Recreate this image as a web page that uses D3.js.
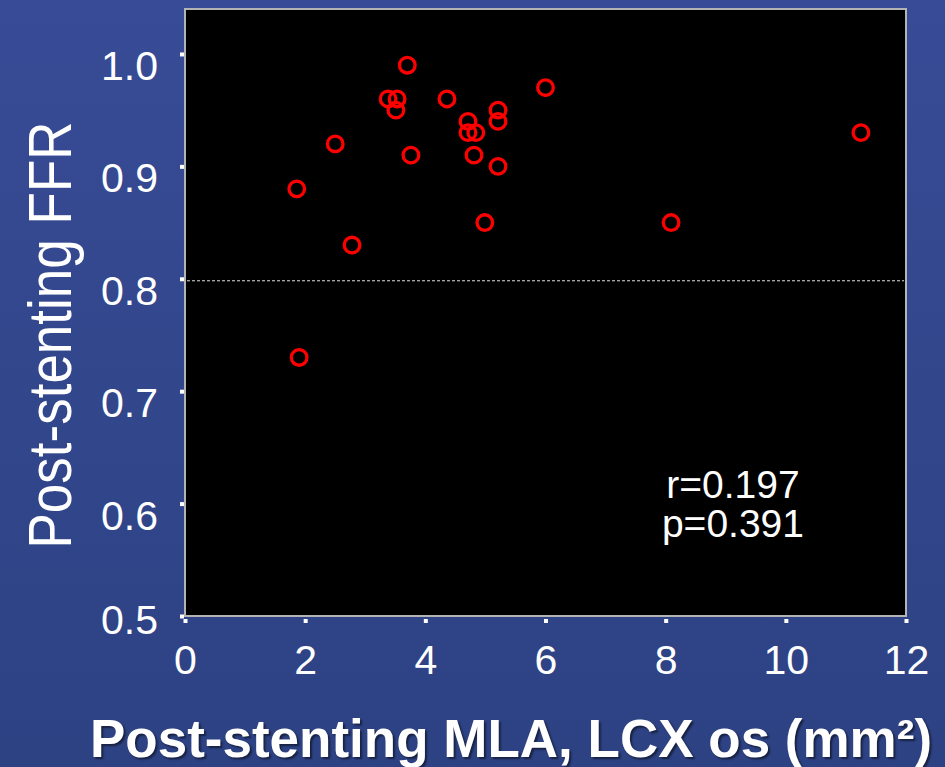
<!DOCTYPE html>
<html lang="en">
<head>
    <meta charset="UTF-8">
    <title>Post-stenting FFR vs MLA</title>
    <script src="https://d3js.org/d3.v7.min.js"></script>
    <style>
        body { margin: 0; }
        svg text { font-family: "Liberation Sans", Arial, sans-serif; fill: #fff; }
    </style>
</head>
<body>
<div id="chart"></div>
<script>
    // data
    var mla = [1.86, 1.90, 2.50, 2.78, 3.38, 3.53, 3.51, 3.70, 3.76, 4.36, 4.71,
               4.71, 4.84, 4.81, 4.99, 5.21, 5.21, 5.21, 6.00, 8.09, 11.25];
    var ffr = [0.88, 0.73, 0.92, 0.83, 0.96, 0.96, 0.95, 0.99, 0.91, 0.96, 0.94,
               0.93, 0.93, 0.91, 0.85, 0.95, 0.94, 0.90, 0.97, 0.85, 0.93];
    var xTicks = [0, 2, 4, 6, 8, 10, 12];
    var yTicks = [0.5, 0.6, 0.7, 0.8, 0.9, 1.0];
    var cutoff = 0.8;
    var stats = ["r=0.197", "p=0.391"];

    var W = 945, H = 767;
    var box = {left: 185, right: 906, top: 9, bottom: 616};

    var svg = d3.select("#chart").append("svg")
        .attr("width", W).attr("height", H);

    var grad = svg.append("defs").append("linearGradient")
        .attr("id", "bg").attr("x1", 0).attr("y1", 0).attr("x2", 0).attr("y2", 1);
    grad.append("stop").attr("offset", "0%").attr("stop-color", "#384b96");
    grad.append("stop").attr("offset", "100%").attr("stop-color", "#2d4283");

    svg.append("rect").attr("width", W).attr("height", H).attr("fill", "url(#bg)");

    var x = d3.scaleLinear().domain([0, 12]).range([box.left, box.right]);
    var y = d3.scaleLinear().domain([0.5, 1.04]).range([box.bottom, box.top]);

    // plot area
    svg.append("rect")
        .attr("x", box.left).attr("y", box.top)
        .attr("width", box.right - box.left).attr("height", box.bottom - box.top)
        .attr("fill", "#000").attr("stroke", "#b4b4b4").attr("stroke-width", 2);

    // axes: little square ticks outside the box
    var yAxis = svg.append("g")
        .attr("transform", "translate(" + (box.left - 1) + ",0)")
        .call(d3.axisLeft(y).tickValues(yTicks).tickFormat(d3.format(".1f"))
            .tickSize(4).tickPadding(22));
    yAxis.select(".domain").remove();
    yAxis.selectAll("line").attr("stroke", "#fff").attr("stroke-width", 4);
    yAxis.selectAll("text")
        .attr("fill", "#fff").style("font-size", "41px")
        .attr("dy", d => d === 0.5 ? "0.42em" : "0.62em");

    var xAxis = svg.append("g")
        .attr("transform", "translate(0," + (box.bottom + 3) + ")")
        .call(d3.axisBottom(x).tickValues(xTicks).tickSize(4).tickPadding(22));
    xAxis.select(".domain").remove();
    xAxis.selectAll("line").attr("stroke", "#fff").attr("stroke-width", 4);
    xAxis.selectAll("text").attr("fill", "#fff").style("font-size", "41px");

    // 0.8 cutoff line
    svg.append("line")
        .attr("x1", box.left + 2).attr("x2", box.right - 2)
        .attr("y1", y(cutoff) + 2).attr("y2", y(cutoff) + 2)
        .attr("stroke", "#e0e0e0").attr("stroke-width", 1)
        .attr("stroke-dasharray", "3,2");

    // points
    svg.selectAll(".dot")
        .data(d3.range(mla.length))
        .enter().append("circle")
        .attr("class", "dot")
        .attr("cx", i => x(mla[i]))
        .attr("cy", i => y(ffr[i]))
        .attr("r", 7.8)
        .attr("fill", "none")
        .attr("stroke", "#ff0000")
        .attr("stroke-width", 3.3);

    // stats
    svg.selectAll(".stat")
        .data(stats)
        .enter().append("text")
        .attr("class", "stat")
        .attr("x", x(9.12))
        .attr("y", (d, i) => y(0.605) + i * 39)
        .attr("text-anchor", "middle")
        .attr("transform", "")
        .style("font-size", "39px")
        .text(d => d);

    // axis titles
    svg.append("text")
        .attr("transform", "translate(71,335) rotate(-90) scale(1,1.15)")
        .attr("text-anchor", "middle")
        .style("font-size", "53px")
        .text("Post-stenting FFR");

    svg.append("text")
        .attr("x", 511).attr("y", 757)
        .attr("text-anchor", "middle")
        .style("font-size", "53px").style("font-weight", "bold")
        .style("text-shadow", "2px 2px 2px rgba(0,0,0,0.5)")
        .text("Post-stenting MLA, LCX os (mm²)");
</script>
</body>
</html>
